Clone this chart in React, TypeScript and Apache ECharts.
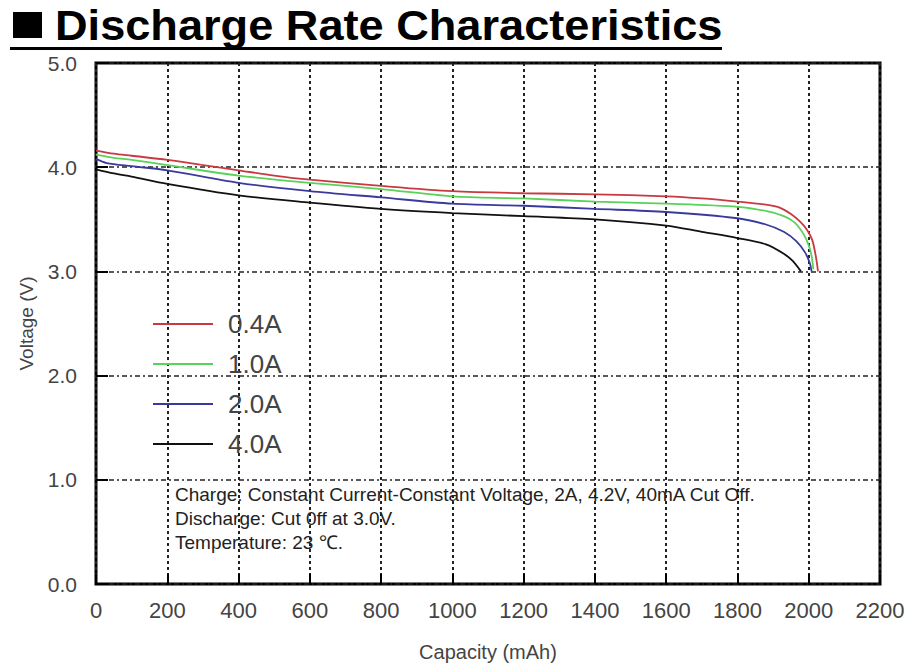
import React, { useEffect, useRef } from "react";
import * as echarts from "echarts";

const seriesNames = ["0.4A", "1.0A", "2.0A", "4.0A"];
const seriesColors = ["#c83a3f", "#5ad25a", "#3a3a9e", "#111111"];

const cap04 = [0, 50, 100, 200, 300, 400, 500, 600, 800, 1000, 1200, 1400, 1600, 1700, 1800, 1880, 1920, 1950, 1975, 1995, 2010, 2018, 2023, 2026];
const v04 = [4.16, 4.13, 4.11, 4.07, 4.02, 3.97, 3.92, 3.88, 3.82, 3.77, 3.75, 3.74, 3.72, 3.7, 3.67, 3.64, 3.61, 3.55, 3.48, 3.4, 3.3, 3.18, 3.08, 3.0];

const cap10 = [0, 50, 100, 200, 400, 600, 800, 1000, 1200, 1400, 1600, 1800, 1880, 1930, 1960, 1985, 2000, 2008, 2013];
const v10 = [4.12, 4.09, 4.07, 4.02, 3.92, 3.85, 3.79, 3.72, 3.7, 3.67, 3.65, 3.62, 3.58, 3.53, 3.47, 3.36, 3.25, 3.15, 3.02];

const cap20 = [0, 30, 100, 200, 400, 600, 800, 1000, 1200, 1400, 1600, 1800, 1880, 1930, 1965, 1990, 2003, 2008];
const v20 = [4.08, 4.04, 4.01, 3.97, 3.85, 3.77, 3.71, 3.65, 3.63, 3.6, 3.57, 3.51, 3.45, 3.38, 3.29, 3.18, 3.08, 3.0];

const cap40 = [0, 50, 100, 200, 400, 600, 800, 1000, 1200, 1400, 1600, 1700, 1800, 1880, 1930, 1955, 1978];
const v40 = [3.98, 3.94, 3.91, 3.84, 3.73, 3.66, 3.6, 3.56, 3.53, 3.5, 3.44, 3.38, 3.32, 3.26, 3.17, 3.1, 3.0];

const noteLines = [
  "Charge: Constant Current-Constant Voltage, 2A, 4.2V, 40mA Cut Off.",
  "Discharge: Cut 0ff at 3.0V.",
  "Temperature: 23\u00a0\u2103.",
];

const titleText = "Discharge Rate Characteristics";
const xName = "Capacity (mAh)";
const yName = "Voltage (V)";

const caps = [cap04, cap10, cap20, cap40];
const volts = [v04, v10, v20, v40];

export default function App() {
  const ref = useRef<HTMLDivElement>(null);
  useEffect(() => {
    if (!ref.current) return;
    const chart = echarts.init(ref.current, undefined, { renderer: "svg" });
    const sans = "'Liberation Sans', Arial, sans-serif";
    chart.setOption({
      animation: false,
      backgroundColor: "#ffffff",
      grid: {
        left: 96,
        right: 28,
        top: 63,
        bottom: 81,
        show: true,
        borderColor: "#000",
        borderWidth: 3,
        backgroundColor: "transparent",
      },
      legend: {
        orient: "vertical",
        left: 153,
        top: 311,
        itemWidth: 60,
        itemHeight: 2,
        itemGap: 14,
        padding: 0,
        icon: "rect",
        selectedMode: false,
        textStyle: { fontSize: 26, color: "#444", fontFamily: sans, padding: [0, 0, 0, 10] },
        data: seriesNames.map((n, i) => ({
          name: n,
          itemStyle: { color: seriesColors[i] },
        })),
      },
      xAxis: {
        type: "value",
        min: 0,
        max: 2200,
        interval: 200,
        name: xName,
        nameLocation: "middle",
        nameGap: 58,
        nameTextStyle: { fontSize: 20, color: "#444", fontFamily: sans },
        axisLine: { show: false },
        axisTick: { show: true, inside: true, length: 10, lineStyle: { color: "#000", width: 2 } },
        axisLabel: {
          fontSize: 22,
          color: "#444",
          fontFamily: sans,
          margin: 15,
          formatter: (v: number) => String(v),
        },
        splitLine: { show: true, lineStyle: { type: [3, 3], color: "#222", width: 2 } },
      },
      yAxis: {
        type: "value",
        min: 0,
        max: 5,
        interval: 1,
        name: yName,
        nameLocation: "middle",
        nameGap: 60,
        nameRotate: 90,
        nameTextStyle: { fontSize: 19, color: "#444", fontFamily: sans },
        axisLine: { show: false },
        axisTick: { show: true, inside: true, length: 12, lineStyle: { color: "#000", width: 2 } },
        axisLabel: {
          fontSize: 21,
          color: "#444",
          fontFamily: sans,
          margin: 19,
          formatter: (v: number) => v.toFixed(1),
        },
        splitLine: { show: true, lineStyle: { type: [5, 3, 2, 3], color: "#222", width: 1.5 } },
      },
      series: seriesNames.map((n, i) => ({
        name: n,
        type: "line",
        showSymbol: false,
        symbol: "none",
        smooth: 0.3,
        lineStyle: { color: seriesColors[i], width: 1.8 },
        itemStyle: { color: seriesColors[i] },
        data: caps[i].map((c, j) => [c, volts[i][j]]),
        z: 3,
      })),
      graphic: [
        {
          type: "rect",
          left: 13,
          top: 12,
          shape: { width: 29, height: 26 },
          style: { fill: "#000" },
        },
        {
          type: "text",
          left: 55,
          top: 3,
          scaleX: 1.05,
          style: { text: titleText, font: `bold 43px ${sans}`, fill: "#000" },
        },
        {
          type: "rect",
          left: 10,
          top: 47,
          shape: { width: 712, height: 3 },
          style: { fill: "#000" },
        },
        ...noteLines.map((t, i) => ({
          type: "text",
          left: 175,
          top: 485 + i * 24,
          style: { text: t, font: `19px ${sans}`, fill: "#222" },
          z: 10,
        })),
      ],
    });
    return () => chart.dispose();
  }, []);
  return (
    <div
      ref={ref}
      style={{ position: "absolute", left: 0, top: 0, width: 908, height: 667 }}
    />
  );
}
